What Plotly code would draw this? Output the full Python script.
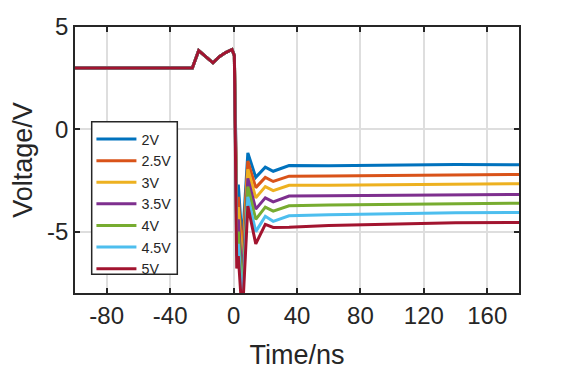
import plotly.graph_objects as go

# time axis (ns) shared by all traces
t_pre = [-100, -60, -26, -22, -18, -13, -9, -5, -1]
v_pre = [3.0, 3.0, 3.0, 3.85, 3.6, 3.25, 3.55, 3.75, 3.9]
t_post = [0.5, 2, 3, 5.5, 9, 14, 20, 25, 35, 60, 100, 140, 180]

labels = ['2V', '2.5V', '3V', '3.5V', '4V', '4.5V', '5V']
colors = ['#0072BD', '#D95319', '#EDB120', '#7E2F8E', '#77AC30', '#4DBEEE', '#A2142F']

v_2 = [3.6, -3.3, -2.7, -5.6, -1.15, -2.35, -1.85, -2.05, -1.77, -1.78, -1.75, -1.72, -1.73]
v_25 = [3.6, -3.9, -3.3, -6.2, -1.55, -2.85, -2.35, -2.55, -2.29, -2.28, -2.25, -2.22, -2.21]
v_3 = [3.6, -4.4, -3.8, -6.8, -1.95, -3.35, -2.8, -3.0, -2.74, -2.73, -2.7, -2.67, -2.66]
v_35 = [3.6, -5.0, -4.4, -7.4, -2.4, -3.9, -3.35, -3.55, -3.26, -3.25, -3.22, -3.19, -3.18]
v_4 = [3.6, -5.6, -5.0, -8.0, -2.8, -4.4, -3.8, -4.0, -3.74, -3.7, -3.66, -3.62, -3.61]
v_45 = [3.6, -6.2, -5.6, -8.6, -3.3, -5.0, -4.25, -4.5, -4.23, -4.18, -4.12, -4.08, -4.06]
v_5 = [3.6, -6.8, -6.2, -9.2, -3.75, -5.6, -4.65, -4.8, -4.79, -4.7, -4.62, -4.57, -4.55]
series = [v_2, v_25, v_3, v_35, v_4, v_45, v_5]

x_ticks = [-80, -40, 0, 40, 80, 120, 160]
x_ticktext = ['-80', '-40', '0', '40', '80', '120', '160']
y_ticks = [-5, 0, 5]
y_ticktext = ['-5', '0', '5']

ink = '#262626'

fig = go.Figure()
for name, col, vals in zip(labels, colors, series):
    fig.add_trace(go.Scatter(x=t_pre + t_post, y=v_pre + vals, mode='lines', name=name,
                             line=dict(color=col, width=3)))

# legend frame drawn as a shape so its size matches the matlab box
fig.add_shape(type='rect', xref='paper', yref='paper', x0=0.0376, x1=0.2304, y0=0.0703, y1=0.644,
              fillcolor='white', line=dict(color=ink, width=1.5), layer='above')

# page body has an 8px margin, so the figure is shrunk by that amount
fig.update_layout(
    template='none',
    width=567, height=367,
    paper_bgcolor='white', plot_bgcolor='white',
    margin=dict(l=67, r=56, t=19, b=82),
    font=dict(family='Arial, Liberation Sans, sans-serif', color=ink),
    legend=dict(x=0.037, y=0.638, xanchor='left', yanchor='top',
                borderwidth=0, bgcolor='rgba(0,0,0,0)',
                font=dict(size=14.3, color=ink), itemwidth=40, traceorder='normal'),
)
fig.update_xaxes(range=[-100, 180], tickvals=x_ticks, ticktext=x_ticktext, ticks='inside',
                 ticklen=5, tickcolor=ink, tickwidth=1.5, showline=True, linecolor=ink,
                 linewidth=1.5, mirror='ticks', showgrid=True, gridcolor='#dedede',
                 gridwidth=1.5, zeroline=False, automargin=False, tickfont=dict(size=24),
                 title=dict(text='Time/ns', font=dict(size=27), standoff=18))
fig.update_yaxes(range=[-8, 5], tickvals=y_ticks, ticktext=y_ticktext, ticks='inside',
                 ticklen=5, tickcolor=ink, tickwidth=1.5, showline=True, linecolor=ink,
                 linewidth=1.5, mirror='ticks', showgrid=True, gridcolor='#dedede',
                 gridwidth=1.5, zeroline=False, automargin=False, tickfont=dict(size=24),
                 title=dict(text='Voltage/V', font=dict(size=27), standoff=15))

fig.write_html("out.html")
